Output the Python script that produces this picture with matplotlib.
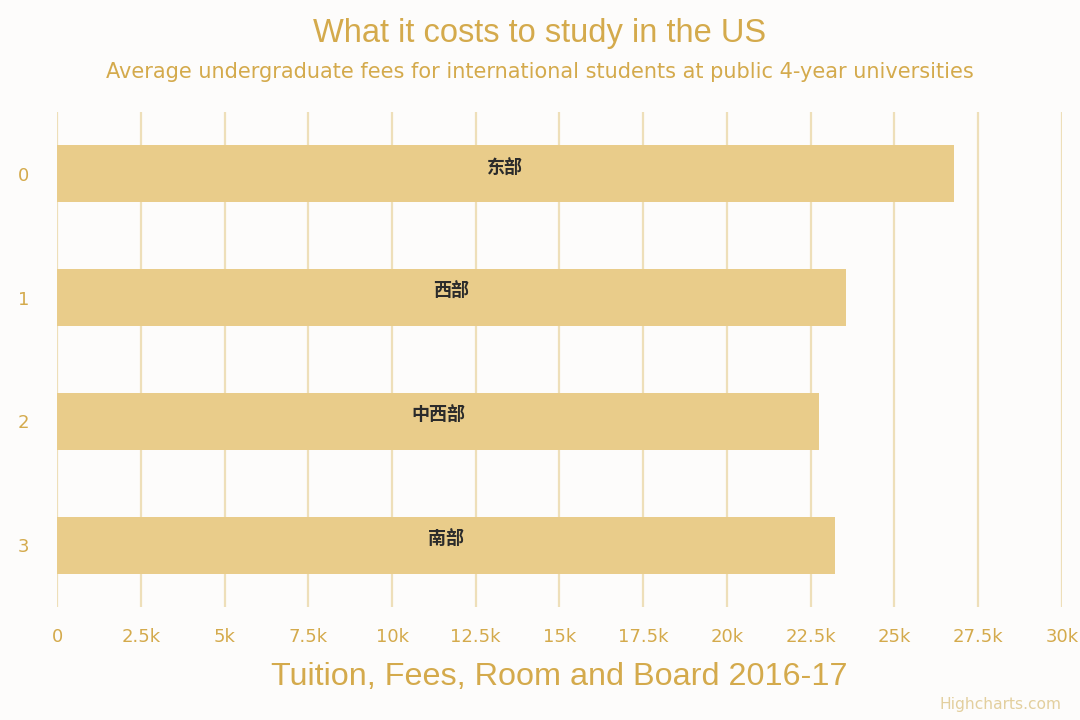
import matplotlib
matplotlib.use('Agg')
import matplotlib.pyplot as plt
from matplotlib.ticker import FuncFormatter

plt.rcParams['font.family'] = ['DejaVu Sans', 'Noto Sans CJK SC']

regions = ['东部', '西部', '中西部', '南部']
costs = [26770, 23550, 22750, 23230]
x_ticks = [0, 2500, 5000, 7500, 10000, 12500, 15000, 17500, 20000, 22500, 25000, 27500, 30000]

gold = '#D4AA4C'
bar_color = '#E9CC8A'
bg = '#FDFCFB'

fig = plt.figure(figsize=(10.8, 7.2), dpi=100, facecolor=bg)
ax = fig.add_axes([0.0528, 0.157, 0.9305, 0.6874])
ax.set_facecolor(bg)

ypos = list(range(len(regions)))
ax.barh(ypos, costs, height=0.46, color=bar_color, zorder=2)
for y, v, name in zip(ypos, costs, regions):
    ax.text(v / 2, y - 0.055, name, ha='center', va='center', fontsize=13,
            fontweight='bold', color='#2b2b2b', family=['Noto Sans CJK SC', 'DejaVu Sans'], zorder=3)

ax.set_xlim(0, 30000)
ax.set_ylim(3.5, -0.5)
ax.set_xticks(x_ticks)
ax.xaxis.set_major_formatter(FuncFormatter(lambda v, p: '0' if v == 0 else ('%gk' % (v / 1000))))
ax.set_yticks(ypos)
ax.set_yticklabels([str(i) for i in ypos])
ax.tick_params(axis='both', colors=gold, labelsize=13, length=0)
ax.tick_params(axis='x', pad=15)
ax.tick_params(axis='y', pad=20)
ax.grid(axis='x', color='#EEDFB9', linewidth=1.6, zorder=1)
ax.set_axisbelow(True)
for s in ax.spines.values():
    s.set_visible(False)

ax.set_xlabel('Tuition, Fees, Room and Board 2016-17', fontsize=23.3, color=gold,
              family='Liberation Sans', labelpad=12)

fig.text(0.5, 0.953, 'What it costs to study in the US', ha='center', va='center',
         fontsize=23.5, color=gold, family='Liberation Sans')
fig.text(0.5, 0.9, 'Average undergraduate fees for international students at public 4-year universities',
         ha='center', va='center', fontsize=15, color=gold)
fig.text(0.983, 0.021, 'Highcharts.com', ha='right', va='center', fontsize=11.2, color='#E3CF9E')

fig.savefig('out.png', dpi=100, facecolor=bg)
